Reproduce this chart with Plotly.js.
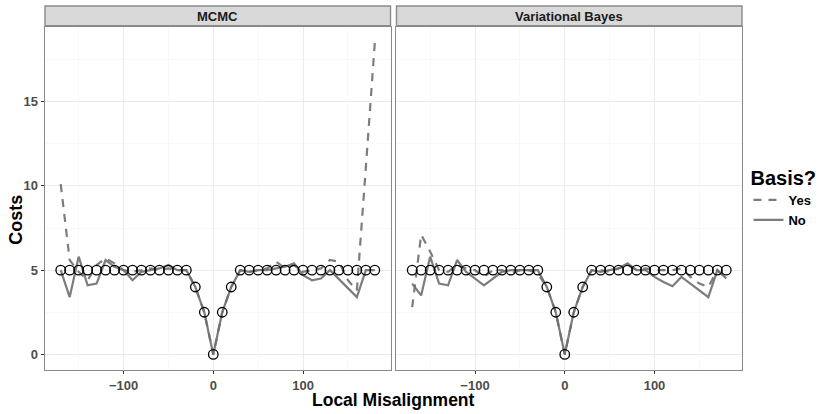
<!DOCTYPE html>
<html>
<head>
<meta charset="utf-8">
<script src="https://cdn.plot.ly/plotly-3.0.1.min.js"></script>
<style>html,body{margin:0;padding:0;background:#fff;}#chart{width:830px;height:414px;}</style>
</head>
<body>
<div id="chart"></div>
<script>
// Data
const misalignment = [-170,-160,-150,-140,-130,-120,-110,-100,-90,-80,-70,-60,-50,-40,-30,-20,-10,0,10,20,30,40,50,60,70,80,90,100,110,120,130,140,150,160,170,180];
const trueCost     = [5,5,5,5,5,5,5,5,5,5,5,5,5,5,5,4,2.5,0,2.5,4,5,5,5,5,5,5,5,5,5,5,5,5,5,5,5,5];
const mcmcYes = [10.1,5.6,4.9,4.4,5.3,5.7,5.4,5.0,4.9,5.0,5.1,5.0,5.1,5.0,5.0,4.0,2.5,0,2.5,4.0,5.0,4.9,5.0,5.1,5.5,5.1,5.3,4.9,5.0,5.1,5.6,5.5,4.4,3.8,11.1,18.5];
const mcmcNo  = [5.0,3.4,5.8,4.1,4.2,5.6,5.2,5.0,4.4,4.9,5.0,5.1,5.3,5.0,5.0,4.0,2.5,0,2.5,4.0,5.0,4.9,5.0,5.0,5.1,5.2,5.4,4.7,4.4,4.5,5.0,4.45,3.9,3.4,5.0,5.0];
const vbYes   = [2.8,7.1,6.1,5.0,4.9,5.3,5.1,5.0,4.6,5.0,5.0,4.8,5.0,5.0,4.8,4.0,2.5,0,2.5,4.0,5.0,5.0,4.9,5.1,5.3,5.0,5.1,5.0,5.0,5.0,5.1,4.6,4.2,4.0,5.0,4.5];
const vbNo    = [4.2,3.5,5.8,4.2,4.1,5.6,4.9,4.5,4.1,4.5,4.9,5.0,5.0,5.0,5.0,4.0,2.5,0,2.5,4.0,5.0,4.9,5.0,5.1,5.4,5.0,5.0,4.6,4.3,4.05,4.6,4.2,3.8,3.4,5.0,4.5];
const panelNames = ["MCMC", "Variational Bayes"];
const basisLabels = ["Yes", "No"];
const xTicks = [-100, 0, 100];
const yTicks = [0, 5, 10, 15];

const lineColor = "rgba(110,110,110,0.9)";
const yesStyle = {color: lineColor, width: 2.2, dash: "8px,7px"};
const noStyle  = {color: lineColor, width: 2.2, dash: "solid"};

const panels = [[mcmcYes, mcmcNo, "x", "y"], [vbYes, vbNo, "x2", "y2"]];
const traces = [];
panels.forEach((p, i) => {
  traces.push({x: misalignment, y: p[0], xaxis: p[2], yaxis: p[3], type: "scatter", mode: "lines",
    name: basisLabels[0], legendgroup: "yes", showlegend: i === 0, line: yesStyle, hoverinfo: "skip"});
  traces.push({x: misalignment, y: p[1], xaxis: p[2], yaxis: p[3], type: "scatter", mode: "lines",
    name: basisLabels[1], legendgroup: "no", showlegend: i === 0, line: noStyle, hoverinfo: "skip"});
  traces.push({x: misalignment, y: trueCost, xaxis: p[2], yaxis: p[3], type: "scatter", mode: "markers",
    showlegend: false, marker: {symbol: "circle-open", size: 9.5, color: "#000", line: {width: 1.3, color: "#000"}}, hoverinfo: "skip"});
});

const W = 830, H = 414, L = 44.5, R = 83.5, T = 27, B = 44;
const pw = W - L - R;       // 702
const ph = H - T - B;       // 343
const panelW = 348;
const d1 = [0, panelW / pw];
const d2 = [(398.5 - L) / pw, 1];

const borderColor = "#8a8a8a";
const FF = "Liberation Sans, Arial, sans-serif";
const tickFont = {family: FF, size: 13, color: "#4D4D4D", weight: "bold"};
function xax(domain, anchor) {
  return {domain: domain, anchor: anchor, range: [-187.5, 197.5], tickvals: xTicks, ticks: "outside", ticklen: 3,
    tickcolor: "#333", tickwidth: 1, tickfont: tickFont, showline: true, mirror: true, linecolor: borderColor, linewidth: 1.4,
    showgrid: true, gridcolor: "#EBEBEB", gridwidth: 1, zeroline: false,
    minor: {tickvals: [-150, -50, 50, 150], showgrid: true, gridcolor: "#F5F5F5", gridwidth: 0.6, ticks: ""}};
}
function yax(anchor, labels) {
  return {domain: [0, 1], anchor: anchor, range: [-0.925, 19.425], tickvals: yTicks, ticks: labels ? "outside" : "",
    ticklen: 3, tickcolor: "#333", tickwidth: 1, tickfont: tickFont, showticklabels: labels,
    showline: true, mirror: true, linecolor: borderColor, linewidth: 1.4,
    showgrid: true, gridcolor: "#EBEBEB", gridwidth: 1, zeroline: false,
    minor: {tickvals: [2.5, 7.5, 12.5, 17.5], showgrid: true, gridcolor: "#F5F5F5", gridwidth: 0.6, ticks: ""}};
}

const stripH = 21 / ph;
const shapes = [d1, d2].map(d => ({type: "rect", xref: "paper", yref: "paper", x0: d[0], x1: d[1], y0: 1 + 1.2/ph, y1: 1 + stripH,
  fillcolor: "#D9D9D9", line: {color: borderColor, width: 1.4}, layer: "above"}));

const annotations = [
  {text: "<b>" + panelNames[0] + "</b>", xref: "paper", yref: "paper", x: (d1[0] + d1[1]) / 2, y: 1 + stripH / 2 + 0.5/ph,
    showarrow: false, xanchor: "center", yanchor: "middle", font: {family: FF, size: 13, color: "#1A1A1A"}},
  {text: "<b>" + panelNames[1] + "</b>", xref: "paper", yref: "paper", x: (d2[0] + d2[1]) / 2, y: 1 + stripH / 2 + 0.5/ph,
    showarrow: false, xanchor: "center", yanchor: "middle", font: {family: FF, size: 13, color: "#1A1A1A"}},
  {text: "<b>Local Misalignment</b>", xref: "paper", yref: "paper", x: (395.5 - L) / pw, y: -(400 - T - ph) / ph,
    showarrow: false, xanchor: "center", yanchor: "middle", font: {family: FF, size: 17.5, color: "#000"}},
  {text: "<b>Costs</b>", xref: "paper", yref: "paper", x: (15 - L) / pw, y: 1 - (220 - T) / ph, textangle: -90,
    showarrow: false, xanchor: "center", yanchor: "middle", font: {family: FF, size: 18, color: "#000"}}
];

const layout = {
  width: W, height: H, margin: {l: L, r: R, t: T, b: B, pad: 0},
  paper_bgcolor: "#fff", plot_bgcolor: "#fff",
  xaxis: xax(d1, "y"), yaxis: yax("x", true),
  xaxis2: xax(d2, "y2"), yaxis2: yax("x2", false),
  shapes: shapes, annotations: annotations,
  showlegend: true,
  legend: {x: (753 - L) / pw, xanchor: "left", y: 1 - (159 - T) / ph, yanchor: "top", bgcolor: "rgba(0,0,0,0)",
    itemwidth: 30, tracegroupgap: 0,
    title: {text: "<b>Basis?</b>", font: {family: FF, size: 20, color: "#000"}},
    font: {family: FF, size: 13, color: "#000", weight: "bold"}}
};

Plotly.newPlot("chart", traces, layout, {staticPlot: true, displayModeBar: false});
</script>
</body>
</html>
